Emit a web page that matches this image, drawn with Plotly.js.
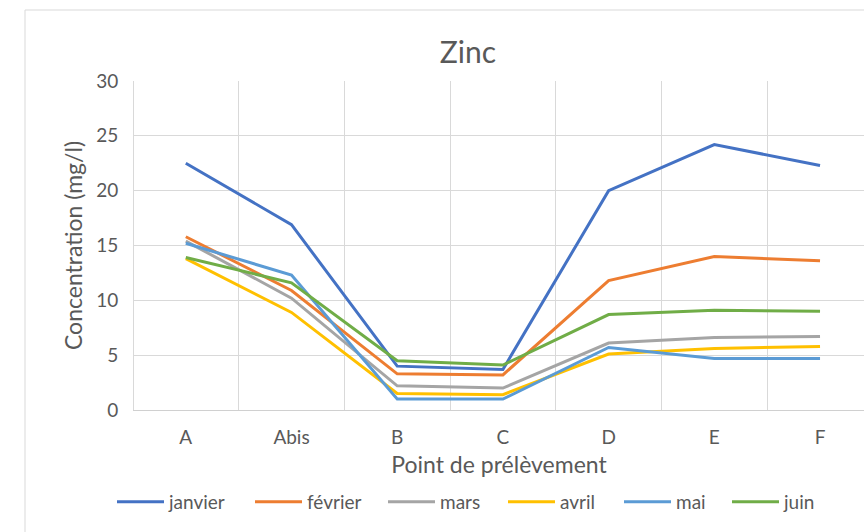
<!DOCTYPE html>
<html>
<head>
<meta charset="utf-8">
<script src="https://cdn.plot.ly/plotly-3.0.1.min.js"></script>
<style>
  html, body { margin: 0; padding: 0; background: #ffffff; }
  #chart { width: 864px; height: 532px; }
</style>
</head>
<body>
<div id="chart"></div>
<script>
// Sampling points along the stream
const points = ["A", "Abis", "B", "C", "D", "E", "F"];

// Zinc concentration (mg/l) per month
const janvier = [22.5, 16.9, 4.0, 3.7, 20.0, 24.2, 22.3];
const fevrier = [15.8, 10.9, 3.3, 3.2, 11.8, 14.0, 13.6];
const mars    = [15.4, 10.2, 2.2, 2.0, 6.1, 6.6, 6.7];
const avril   = [13.8, 8.9, 1.5, 1.4, 5.1, 5.6, 5.8];
const mai     = [15.2, 12.3, 1.0, 1.0, 5.7, 4.7, 4.7];
const juin    = [13.9, 11.6, 4.5, 4.1, 8.7, 9.1, 9.0];

const monthNames = ["janvier", "février", "mars", "avril", "mai", "juin"];
const monthValues = [janvier, fevrier, mars, avril, mai, juin];
const monthColors = ["#4472C4", "#ED7D31", "#A5A5A5", "#FFC000", "#5B9BD5", "#70AD47"];

const FONT = "Lato, 'Open Sans', sans-serif";
const GREY = "#595959";

// one legend per series so the key row keeps a constant gap after each label
const legendIds = monthNames.map((_, i) => i === 0 ? "legend" : "legend" + (i + 1));
const legendLeft = [112, 250, 383, 503, 619, 727];

const traces = monthNames.map((name, i) => ({
  type: "scatter",
  mode: "lines",
  name: name,
  x: points,
  y: monthValues[i],
  legend: legendIds[i],
  line: { color: monthColors[i], width: 3 },
  hoverinfo: "x+y+name"
}));

// plot area geometry (px) used to place the outer chart frame
const L = 134, T = 81, W = 730, H = 329;
const px = v => (v - L) / W;
const py = v => (T + H - v) / H;

const layout = {
  width: 864,
  height: 532,
  margin: { l: L, r: 0, t: T, b: 532 - T - H },
  paper_bgcolor: "#ffffff",
  plot_bgcolor: "#ffffff",
  font: { family: FONT, color: GREY, size: 20 },
  title: {
    text: "Zinc",
    font: { family: FONT, size: 30, color: GREY },
    xref: "container", x: 468 / 864, xanchor: "center",
    yref: "container", y: 1 - 52 / 532, yanchor: "middle"
  },
  xaxis: {
    type: "category",
    range: [-0.49, 6.416],
    tickson: "boundaries",
    showgrid: true,
    gridcolor: "#d9d9d9",
    gridwidth: 1,
    showline: true,
    linecolor: "#d0d0d0",
    linewidth: 1,
    ticks: "",
    ticklabelstandoff: 10,
    tickfont: { family: FONT, size: 19, color: GREY },
    title: { text: "Point de prélèvement", font: { family: FONT, size: 23, color: GREY }, standoff: 10 },
    zeroline: false,
    fixedrange: true
  },
  yaxis: {
    range: [0, 30],
    tickvals: [0, 5, 10, 15, 20, 25, 30],
    showgrid: true,
    gridcolor: "#d9d9d9",
    gridwidth: 1,
    showline: true,
    linecolor: "#d9d9d9",
    zeroline: false,
    ticks: "",
    ticklabelstandoff: 11,
    tickfont: { family: FONT, size: 19, color: GREY },
    title: { text: "Concentration (mg/l)", font: { family: FONT, size: 23, color: GREY }, standoff: 7 },
    fixedrange: true
  },
  showlegend: true,
  shapes: [{
    type: "rect", layer: "below",
    xref: "paper", yref: "paper",
    x0: px(25), x1: px(900), y0: py(560), y1: py(10),
    line: { color: "#d9d9d9", width: 1 },
    fillcolor: "rgba(0,0,0,0)"
  }]
};

legendIds.forEach((id, i) => {
  layout[id] = {
    orientation: "h",
    xref: "container", x: legendLeft[i] / 864, xanchor: "left",
    yref: "container", y: 1 - 502 / 532, yanchor: "middle",
    font: { family: FONT, size: 19, color: GREY },
    itemwidth: 47,
    bgcolor: "rgba(0,0,0,0)"
  };
});

Plotly.newPlot("chart", traces, layout, { displayModeBar: false, staticPlot: true });
</script>
</body>
</html>
